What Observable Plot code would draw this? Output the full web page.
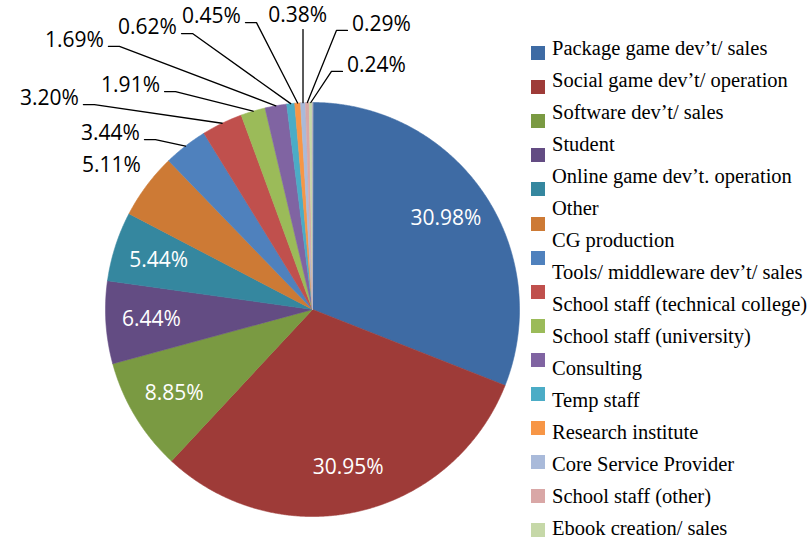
<!DOCTYPE html>
<html><head><meta charset="utf-8">
<script src="https://cdn.jsdelivr.net/npm/d3@7"></script>
<script src="https://cdn.jsdelivr.net/npm/@observablehq/plot@0.6"></script>
<style>
#wrap div.lgd, #wrap div.lgd * { font-family: 'Liberation Serif', 'Times New Roman', serif !important; }
</style>
</head><body style="margin:0;background:#fff">
<div id="wrap" style="position:relative;width:812px;height:540px;overflow:hidden;background:#fff"><div id="chart" style="position:absolute;left:0;top:0"></div></div>
<script>
const categories = [
  "Package game dev’t/ sales",
  "Social game dev’t/ operation",
  "Software dev’t/ sales",
  "Student",
  "Online game dev’t. operation",
  "Other",
  "CG production",
  "Tools/ middleware dev’t/ sales",
  "School staff (technical college)",
  "School staff (university)",
  "Consulting",
  "Temp staff",
  "Research institute",
  "Core Service Provider",
  "School staff (other)",
  "Ebook creation/ sales"
];
const values = [30.98, 30.95, 8.85, 6.44, 5.44, 5.11, 3.44, 3.20, 1.91, 1.69, 0.62, 0.45, 0.38, 0.29, 0.24, 0.01];
const colors = ["#3E6BA4", "#9E3B38", "#7A9A42", "#634C83", "#35879F", "#CD7A35", "#4F81BD", "#C0504D",
                "#9BBB59", "#8064A2", "#4BACC6", "#F79646", "#A9BADA", "#D9A7A6", "#C6D8A8", "#B8ADCB"];

// ---- layout ----
const W = 520, H = 540, CX = 312, CY = 309, R = 207;
// outside label placement (radius units relative to pie centre), by slice index
const outsideSpots = {
  5: [-0.971, 0.696], 6: [-0.976, 0.850], 7: [-1.271, 1.019], 8: [-0.879, 1.082],
  9: [-1.150, 1.300], 10: [-0.797, 1.362], 11: [-0.488, 1.415], 12: [-0.072, 1.420],
  13: [0.333, 1.377], 14: [0.309, 1.179]
};

const total = d3.sum(values);
let acc = 0;
const slices = values.map((v, i) => {
  const a0 = acc / total * 2 * Math.PI; acc += v;
  const a1 = acc / total * 2 * Math.PI;
  return {i, cat: categories[i], v, a0, a1, mid: (a0 + a1) / 2, label: v.toFixed(2) + "%"};
});

const polyPts = [];
for (const s of slices) {
  polyPts.push({cat: s.cat, x: 0, y: 0});
  const n = Math.max(2, Math.ceil((s.a1 - s.a0) / 0.005));
  for (let k = 0; k <= n; k++) {
    const a = s.a0 + (s.a1 - s.a0) * k / n;
    polyPts.push({cat: s.cat, x: Math.sin(a), y: Math.cos(a)});
  }
}

const inside = slices.filter(s => s.v >= 5.3).map(s => ({
  x: 0.78 * Math.sin(s.mid), y: 0.78 * Math.cos(s.mid), text: s.label
}));
const outside = slices.filter(s => outsideSpots[s.i]).map(s => ({
  x: outsideSpots[s.i][0], y: outsideSpots[s.i][1], text: s.label, s
}));

const px = 1 / R, hw = 30 * px;
const leaders = [];
outside.forEach((o, j) => {
  const sx = Math.sin(o.s.mid), sy = Math.cos(o.s.mid);
  let pts;
  if (Math.abs(sx - o.x) < hw) {
    pts = [[sx, o.y - 14 * px], [sx, sy]];
  } else if (o.x < sx) {
    const p0 = [o.x + hw + 4 * px, o.y - 6 * px];
    pts = [p0, [p0[0] + 11 * px, p0[1]], [sx, sy]];
  } else {
    const p0 = [o.x - hw - 4 * px, o.y - 6 * px];
    pts = [p0, [p0[0] - 11 * px, p0[1]], [sx, sy]];
  }
  const d = Math.hypot(pts[0][0] - sx, pts[0][1] - sy) * R;
  if (d < 35) return;
  pts.forEach(p => leaders.push({id: j, x: p[0], y: p[1]}));
});

const chart = Plot.plot({
  width: W, height: H, margin: 0,
  x: {domain: [-CX / R, (W - CX) / R], axis: null},
  y: {domain: [-(H - CY) / R, CY / R], axis: null},
  color: {domain: categories, range: colors},
  style: {fontFamily: "'Open Sans', sans-serif", fontSize: "21px", background: "white"},
  marks: [
    Plot.line(polyPts, {x: "x", y: "y", z: "cat", fill: "cat", stroke: "cat", strokeWidth: 0.6, curve: "linear-closed"}),
    Plot.line(leaders, {x: "x", y: "y", z: "id", stroke: "black", strokeWidth: 1.3, strokeLinejoin: "miter"}),
    Plot.text(inside, {x: "x", y: "y", text: "text", fill: "white", fontSize: 21}),
    Plot.text(outside, {x: "x", y: "y", text: "text", fill: "black", fontSize: 21})
  ]
});
document.getElementById("chart").appendChild(chart);

// ---- legend ----
const wrap = document.getElementById("wrap");
categories.forEach((c, i) => {
  const sw = document.createElement("div");
  Object.assign(sw.style, {
    position: "absolute", left: "531px", width: "14px", height: "14px",
    top: (53 + 34.1 * i - 7) + "px", background: colors[i]
  });
  wrap.appendChild(sw);
  const lb = document.createElement("div");
  lb.className = "lgd";
  Object.assign(lb.style, {
    position: "absolute", left: "552px", top: (50 + 32 * i - 12) + "px",
    fontSize: "20.5px", whiteSpace: "nowrap", lineHeight: "1", color: "#000"
  });
  lb.style.setProperty("font-family", "'Liberation Serif', serif", "important");
  lb.textContent = c;
  wrap.appendChild(lb);
});
</script>
</body></html>
